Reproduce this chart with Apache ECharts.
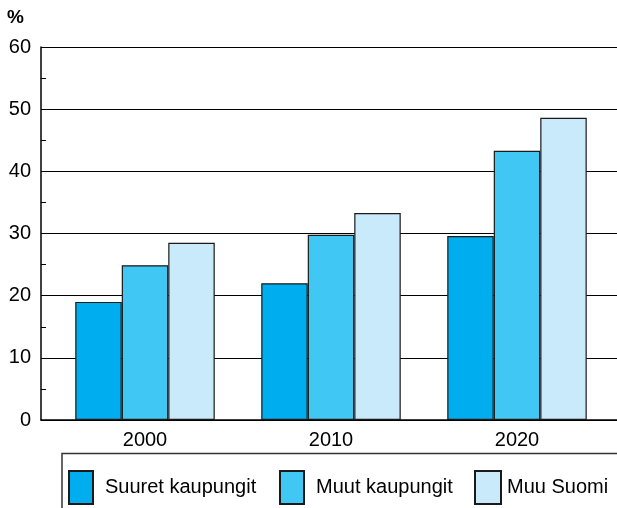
<!DOCTYPE html>
<html>
<head>
<meta charset="utf-8">
<script src="https://cdn.jsdelivr.net/npm/echarts@6/dist/echarts.min.js"></script>
<style>html,body{margin:0;padding:0;background:#fff;}#c{width:617px;height:508px;}</style>
</head>
<body>
<div id="c"></div>
<script>
var categories = ['2000', '2010', '2020'];
var seriesNames = ['Suuret kaupungit', 'Muut kaupungit', 'Muu Suomi'];
var suuretKaupungit = [19.0, 22.0, 29.6];
var muutKaupungit = [24.9, 29.8, 43.3];
var muuSuomi = [28.5, 33.3, 48.6];
var yTicks = [0, 10, 20, 30, 40, 50, 60];
var colors = ['#00AEEF', '#40C7F3', '#C8EAFA'];

var values = [suuretKaupungit, muutKaupungit, muuSuomi];
var font = 'Liberation Sans, Arial, sans-serif';

var chart = echarts.init(document.getElementById('c'), null, {renderer: 'canvas'});
var legendLefts = [68, 279, 474];
var legendTextGaps = [7, 7, 1];
var option = {
  backgroundColor: '#fff',
  animation: false,
  textStyle: {fontFamily: font},
  grid: [
    {left: 52, right: 7, top: 47, bottom: 88},
    {left: 41, right: 0, top: 47, bottom: 88}
  ],
  xAxis: [
    {
      type: 'category', gridIndex: 0, data: categories,
      axisLine: {show: false}, axisTick: {show: false},
      axisLabel: {color: '#000', fontSize: 20, fontFamily: font, margin: 10}
    },
    {
      type: 'value', gridIndex: 1, min: 0, max: 1,
      axisLine: {show: true, lineStyle: {color: '#000', width: 1.5}},
      axisTick: {show: false}, axisLabel: {show: false}, splitLine: {show: false}
    }
  ],
  yAxis: [
    {type: 'value', gridIndex: 0, min: yTicks[0], max: yTicks[yTicks.length - 1], interval: 10, show: false},
    {
      type: 'value', gridIndex: 1, min: yTicks[0], max: yTicks[yTicks.length - 1], interval: 10,
      name: '%', nameLocation: 'end', nameGap: 20,
      nameTextStyle: {color: '#000', fontSize: 19, fontWeight: 'bold', fontFamily: font, align: 'left', padding: [0, 0, 0, -34]},
      axisLine: {show: true, lineStyle: {color: '#000', width: 1.5}},
      axisTick: {show: true, inside: true, length: 11, lineStyle: {color: '#000', width: 1}},
      minorTick: {show: true, splitNumber: 2, length: 5, lineStyle: {color: '#000', width: 1}},
      axisLabel: {color: '#000', fontSize: 20, fontFamily: font, margin: 10,
        formatter: function (v) { return yTicks.indexOf(v) >= 0 ? String(v) : ''; }},
      splitLine: {show: true, lineStyle: {color: '#000', width: 1}}
    }
  ],
  legend: seriesNames.map(function (n, i) {
    return {
      data: [n], left: legendLefts[i], top: 470, padding: 0,
      icon: 'rect', itemWidth: i === 2 ? 26 : 24, itemHeight: 33, itemGap: 11,
      selectedMode: false,
      textStyle: {color: '#000', fontSize: 20, fontFamily: font, padding: [0, 0, 0, legendTextGaps[i]]}
    };
  }),
  graphic: [{
    type: 'polyline',
    shape: {points: [[62, 508], [62, 453.5], [617, 453.5]]},
    style: {stroke: '#333', lineWidth: 1.5, fill: null}
  }],
  series: seriesNames.map(function (n, i) {
    return {
      name: n, type: 'bar', xAxisIndex: 0, yAxisIndex: 0,
      data: values[i], barGap: '0%', barCategoryGap: '25%',
      itemStyle: {color: colors[i], borderColor: '#1a1a1a', borderWidth: 1.2}
    };
  })
};
chart.setOption(option);
</script>
</body>
</html>
